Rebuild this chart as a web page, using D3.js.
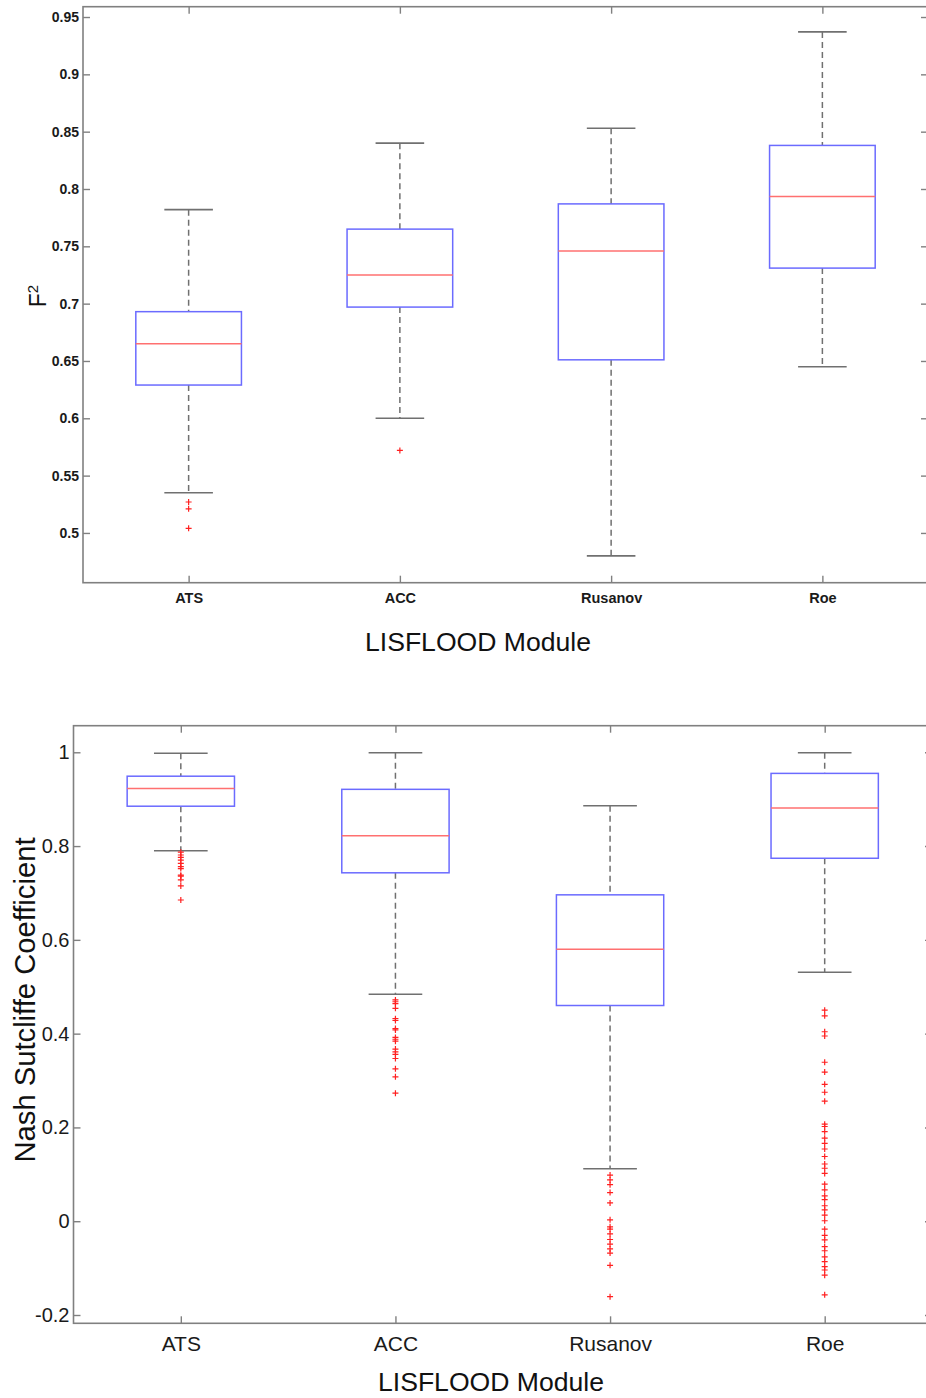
<!DOCTYPE html>
<html>
<head>
<meta charset="utf-8">
<script src="https://cdn.jsdelivr.net/npm/d3@7"></script>
<style>
  body { margin: 0; background: #fff; }
  svg { display: block; font-family: "Liberation Sans", Arial, sans-serif; }
</style>
</head>
<body>
<svg id="chart" width="926" height="1398"></svg>
<script>
var modules = ["ATS", "ACC", "Rusanov", "Roe"];

// F2 panel (top)
var f2Ticks = [0.5, 0.55, 0.6, 0.65, 0.7, 0.75, 0.8, 0.85, 0.9, 0.95];
var f2Lower  = [0.535, 0.600, 0.480, 0.645];
var f2Q1     = [0.629, 0.697, 0.651, 0.731];
var f2Median = [0.665, 0.725, 0.746, 0.7935];
var f2Q3     = [0.693, 0.765, 0.787, 0.838];
var f2Upper  = [0.782, 0.840, 0.853, 0.937];
var f2Outliers = [
    [0.527, 0.521, 0.504],
    [0.572],
    [],
    []
];

// Nash Sutcliffe panel (bottom)
var nseTicks = [-0.2, 0, 0.2, 0.4, 0.6, 0.8, 1];
var nseLower  = [0.790, 0.484, 0.112, 0.531];
var nseQ1     = [0.885, 0.743, 0.460, 0.774];
var nseMedian = [0.923, 0.822, 0.580, 0.881];
var nseQ3     = [0.949, 0.921, 0.696, 0.955];
var nseUpper  = [0.998, 0.999, 0.886, 0.999];
var nseOutliers = [
    [0.787, 0.781, 0.776, 0.770, 0.763, 0.756, 0.752, 0.738, 0.736, 0.728, 0.715, 0.685],
    [0.472, 0.468, 0.464, 0.454, 0.432, 0.428, 0.411, 0.408, 0.392, 0.388, 0.384, 0.367,
     0.361, 0.356, 0.347, 0.325, 0.308, 0.273],
    [0.0985, 0.088, 0.078, 0.061, 0.039, 0.003, -0.012, -0.017, -0.027, -0.039, -0.049,
     -0.059, -0.068, -0.094, -0.161],
    [0.450, 0.438, 0.404, 0.395, 0.339, 0.318, 0.292, 0.275, 0.256, 0.207, 0.202, 0.191,
     0.177, 0.166, 0.154, 0.138, 0.122, 0.113, 0.102, 0.079, 0.067, 0.054, 0.046, 0.033,
     0.024, 0.013, 0.001, -0.017, -0.030, -0.040, -0.054, -0.063, -0.076, -0.086, -0.097,
     -0.104, -0.115, -0.157]
];

var svg = d3.select("#chart");
var axisColor = "#808080";

function drawPanel(o) {
    var g = svg.append("g");
    var x = d3.scalePoint().domain(modules).range([o.left, o.right]).padding(0.5);
    var step = x.step();
    var y = d3.scaleLinear().domain(o.domain).range([o.bottom, o.top]);

    // axes, ticks pointing inward like matlab
    var left = g.append("g").attr("transform", "translate(" + o.left + ",0)")
        .call(d3.axisLeft(y).tickValues(o.ticks).tickSize(-7).tickPadding(4)
            .tickFormat(function(d){ return String(d); }));
    var right = g.append("g").attr("transform", "translate(" + o.right + ",0)")
        .call(d3.axisRight(y).tickValues(o.ticks).tickSize(-7).tickFormat(""));
    var bottom = g.append("g").attr("transform", "translate(0," + o.bottom + ")")
        .call(d3.axisBottom(x).tickSize(-7).tickPadding(o.catPad));
    var top = g.append("g").attr("transform", "translate(0," + o.top + ")")
        .call(d3.axisTop(x).tickSize(-7).tickFormat(""));
    [left, right, bottom, top].forEach(function(a){
        a.select(".domain").remove();
        a.selectAll(".tick line").attr("stroke", axisColor).attr("stroke-width", 1.4);
    });
    left.selectAll("text").attr("fill", "#1a1a1a")
        .style("font-size", o.tickFont + "px").style("font-weight", o.tickWeight);
    bottom.selectAll("text").attr("fill", "#1a1a1a")
        .style("font-size", o.catFont + "px").style("font-weight", o.tickWeight);

    g.append("rect")
        .attr("x", o.left).attr("y", o.top)
        .attr("width", o.right - o.left).attr("height", o.bottom - o.top)
        .attr("fill", "none").attr("stroke", axisColor).attr("stroke-width", 1.6);

    var boxW = step * 0.5, capW = step * o.capFrac;
    modules.forEach(function(m, i){
        var cx = x(m);
        // whiskers
        g.append("line").attr("x1", cx).attr("x2", cx)
            .attr("y1", y(o.upper[i])).attr("y2", y(o.q3[i]))
            .attr("stroke", "#707070").attr("stroke-width", 1.5).attr("stroke-dasharray", "6,4");
        g.append("line").attr("x1", cx).attr("x2", cx)
            .attr("y1", y(o.q1[i])).attr("y2", y(o.lower[i]))
            .attr("stroke", "#707070").attr("stroke-width", 1.5).attr("stroke-dasharray", "6,4");
        [o.upper[i], o.lower[i]].forEach(function(v){
            g.append("line").attr("x1", cx - capW / 2).attr("x2", cx + capW / 2)
                .attr("y1", y(v)).attr("y2", y(v))
                .attr("stroke", "#707070").attr("stroke-width", 1.6);
        });
        // box
        g.append("rect")
            .attr("x", cx - boxW / 2).attr("width", boxW)
            .attr("y", y(o.q3[i])).attr("height", y(o.q1[i]) - y(o.q3[i]))
            .attr("fill", "none").attr("stroke", "#6b6bff").attr("stroke-width", 1.5);
        g.append("line").attr("x1", cx - boxW / 2).attr("x2", cx + boxW / 2)
            .attr("y1", y(o.median[i])).attr("y2", y(o.median[i]))
            .attr("stroke", "#ff7070").attr("stroke-width", 1.5);
        // outliers as + marks
        o.outliers[i].forEach(function(v){
            var py = y(v);
            g.append("path")
                .attr("d", "M" + (cx - 3) + "," + py + "h6M" + cx + "," + (py - 3) + "v6")
                .attr("stroke", "#ff2020").attr("stroke-width", 1.2).attr("fill", "none");
        });
    });

    // axis titles
    g.append("text")
        .attr("x", o.xTitleX).attr("y", o.xTitleY)
        .attr("text-anchor", "middle")
        .attr("textLength", 226).attr("lengthAdjust", "spacingAndGlyphs")
        .style("font-size", "25px").attr("fill", "#111")
        .text("LISFLOOD Module");
}

drawPanel({
    left: 83, right: 928, top: 6.7, bottom: 582.7,
    domain: [0.4566, 0.959], ticks: f2Ticks,
    lower: f2Lower, q1: f2Q1, median: f2Median, q3: f2Q3, upper: f2Upper, outliers: f2Outliers,
    tickFont: 14, catFont: 14.5, tickWeight: "bold", catPad: 10, capFrac: 0.23,
    xTitleX: 478, xTitleY: 651
});

drawPanel({
    left: 73.5, right: 932, top: 725.7, bottom: 1323.3,
    domain: [-0.2177, 1.0567], ticks: nseTicks,
    lower: nseLower, q1: nseQ1, median: nseMedian, q3: nseQ3, upper: nseUpper, outliers: nseOutliers,
    tickFont: 20, catFont: 21, tickWeight: "normal", catPad: 13, capFrac: 0.25,
    xTitleX: 491, xTitleY: 1391
});

// y titles
var f2 = svg.append("text")
    .attr("transform", "translate(46,296) rotate(-90)")
    .attr("text-anchor", "middle").attr("fill", "#111")
    .style("font-size", "23px");
f2.append("tspan").text("F");
f2.append("tspan").attr("dy", -8).style("font-size", "15px").text("2");

svg.append("text")
    .attr("transform", "translate(35,1000) rotate(-90)")
    .attr("text-anchor", "middle").attr("fill", "#111")
    .attr("textLength", 325).attr("lengthAdjust", "spacingAndGlyphs")
    .style("font-size", "30px")
    .text("Nash Sutcliffe Coefficient");
</script>
</body>
</html>
